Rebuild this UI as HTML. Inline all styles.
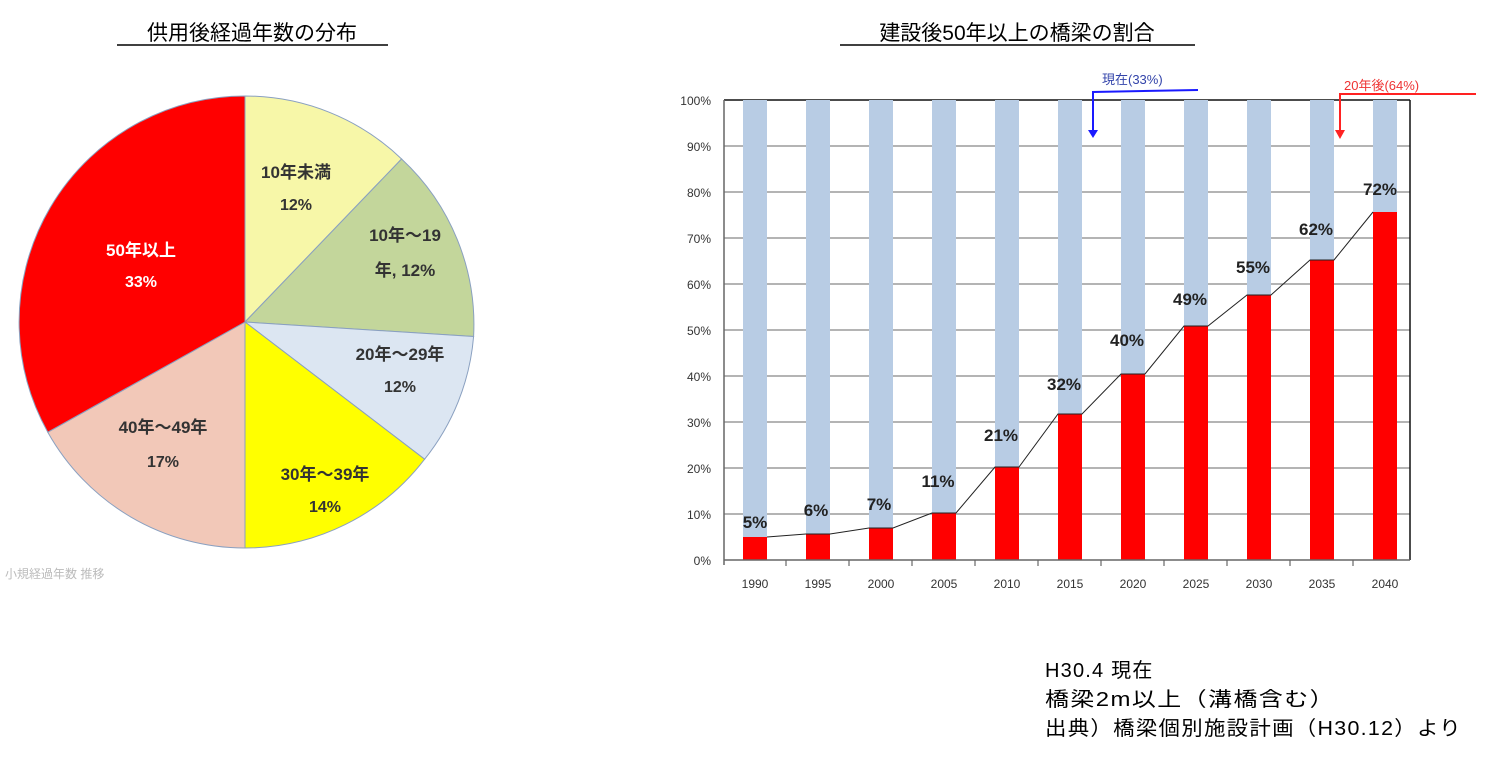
<!DOCTYPE html>
<html><head><meta charset="utf-8"><style>
body{margin:0;background:#fff;width:1500px;height:755px;overflow:hidden;font-family:"Liberation Sans","Noto Sans CJK JP",sans-serif}
svg text{font-family:"Liberation Sans","Noto Sans CJK JP",sans-serif}
</style></head><body>
<svg width="1500" height="755" xmlns="http://www.w3.org/2000/svg">
<text x="252" y="40" font-size="21" text-anchor="middle" fill="#000">供用後経過年数の分布</text>
<line x1="117" y1="45" x2="388" y2="45" stroke="#000" stroke-width="1.5"/>
<text x="1017" y="40" font-size="21" text-anchor="middle" fill="#000">建設後50年以上の橋梁の割合</text>
<line x1="840" y1="45" x2="1195" y2="45" stroke="#000" stroke-width="1.5"/>

<g stroke="#8aa0c0" stroke-width="1">
<path d="M245,322 L245,96 A226,226 0 0 1 401.6,159.0 Z" fill="#f7f7a8"/>
<path d="M245,322 L401.6,159.0 A226,226 0 0 1 473.6,336.5 Z" fill="#c3d69b"/>
<path d="M245,322 L473.6,336.5 A226,226 0 0 1 424.6,459.2 Z" fill="#dce6f2"/>
<path d="M245,322 L424.6,459.2 A226,226 0 0 1 245,548 Z" fill="#ffff00"/>
<path d="M245,322 L245,548 A226,226 0 0 1 47.8,432.2 Z" fill="#f2c8b8"/>
<path d="M245,322 L47.8,432.2 A226,226 0 0 1 245,96 Z" fill="#ff0000"/>
</g>
<g font-size="17" font-weight="bold" text-anchor="middle" fill="#333">
<text x="296" y="178">10年未満</text><text x="296" y="210" font-size="16">12%</text>
<text x="405" y="241">10年～19</text><text x="405" y="276">年, 12%</text>
<text x="400" y="360">20年～29年</text><text x="400" y="392" font-size="16">12%</text>
<text x="325" y="480">30年～39年</text><text x="325" y="512" font-size="16">14%</text>
<text x="163" y="433">40年～49年</text><text x="163" y="467" font-size="16">17%</text>
<text x="141" y="256" fill="#fff">50年以上</text><text x="141" y="287" fill="#fff" font-size="16">33%</text>
</g>

<g stroke="#888" stroke-width="1.2">
<line x1="724" y1="146" x2="1410" y2="146"/><line x1="724" y1="192" x2="1410" y2="192"/>
<line x1="724" y1="238" x2="1410" y2="238"/><line x1="724" y1="284" x2="1410" y2="284"/>
<line x1="724" y1="330" x2="1410" y2="330"/><line x1="724" y1="376" x2="1410" y2="376"/>
<line x1="724" y1="422" x2="1410" y2="422"/><line x1="724" y1="468" x2="1410" y2="468"/>
<line x1="724" y1="514" x2="1410" y2="514"/>
</g>
<line x1="724" y1="100" x2="1410" y2="100" stroke="#111" stroke-width="1.5"/>
<line x1="1410" y1="100" x2="1410" y2="560" stroke="#111" stroke-width="1.5"/>
<g fill="#b8cce4">
<rect x="743" y="100" width="24" height="460"/><rect x="806" y="100" width="24" height="460"/>
<rect x="869" y="100" width="24" height="460"/><rect x="932" y="100" width="24" height="460"/>
<rect x="995" y="100" width="24" height="460"/><rect x="1058" y="100" width="24" height="460"/>
<rect x="1121" y="100" width="24" height="460"/><rect x="1184" y="100" width="24" height="460"/>
<rect x="1247" y="100" width="24" height="460"/><rect x="1310" y="100" width="24" height="460"/>
<rect x="1373" y="100" width="24" height="460"/>
</g>
<g fill="#ff0000">
<rect x="743" y="537" width="24" height="23"/><rect x="806" y="534" width="24" height="26"/>
<rect x="869" y="528" width="24" height="32"/><rect x="932" y="513" width="24" height="47"/>
<rect x="995" y="467" width="24" height="93"/><rect x="1058" y="414" width="24" height="146"/>
<rect x="1121" y="374" width="24" height="186"/><rect x="1184" y="326" width="24" height="234"/>
<rect x="1247" y="295" width="24" height="265"/><rect x="1310" y="260" width="24" height="300"/>
<rect x="1373" y="212" width="24" height="348"/>
</g>
<polyline fill="none" stroke="#222" stroke-width="1" points="767,537 806,534 830,534 869,528 893,528 932,513 956,513 995,467 1019,467 1058,414 1082,414 1121,374 1145,374 1184,326 1208,326 1247,295 1271,295 1310,260 1334,260 1373,212"/>
<line x1="724" y1="560" x2="1410" y2="560" stroke="#666" stroke-width="1.5"/>
<line x1="724" y1="100" x2="724" y2="565" stroke="#666" stroke-width="1.5"/>
<g stroke="#666" stroke-width="1.2">
<line x1="786" y1="560" x2="786" y2="566"/><line x1="849" y1="560" x2="849" y2="566"/><line x1="912" y1="560" x2="912" y2="566"/><line x1="975" y1="560" x2="975" y2="566"/><line x1="1038" y1="560" x2="1038" y2="566"/><line x1="1101" y1="560" x2="1101" y2="566"/><line x1="1164" y1="560" x2="1164" y2="566"/><line x1="1227" y1="560" x2="1227" y2="566"/><line x1="1290" y1="560" x2="1290" y2="566"/><line x1="1353" y1="560" x2="1353" y2="566"/>
</g>
<g font-size="12" fill="#333" text-anchor="end">
<text x="711" y="105">100%</text><text x="711" y="151">90%</text><text x="711" y="197">80%</text><text x="711" y="243">70%</text><text x="711" y="289">60%</text><text x="711" y="335">50%</text><text x="711" y="381">40%</text><text x="711" y="427">30%</text><text x="711" y="473">20%</text><text x="711" y="519">10%</text><text x="711" y="565">0%</text>
</g>
<g font-size="12" fill="#333" text-anchor="middle">
<text x="755" y="588">1990</text><text x="818" y="588">1995</text><text x="881" y="588">2000</text><text x="944" y="588">2005</text><text x="1007" y="588">2010</text><text x="1070" y="588">2015</text><text x="1133" y="588">2020</text><text x="1196" y="588">2025</text><text x="1259" y="588">2030</text><text x="1322" y="588">2035</text><text x="1385" y="588">2040</text>
</g>
<g font-size="17" font-weight="bold" fill="#222" text-anchor="middle">
<text x="755" y="528">5%</text><text x="816" y="516">6%</text><text x="879" y="510">7%</text><text x="938" y="487">11%</text><text x="1001" y="441">21%</text><text x="1064" y="390">32%</text><text x="1127" y="346">40%</text><text x="1190" y="305">49%</text><text x="1253" y="273">55%</text><text x="1316" y="235">62%</text><text x="1380" y="195">72%</text>
</g>
<text x="1102" y="84" font-size="13" fill="#3344aa">現在(33%)</text>
<polyline points="1093,135 1093,92 1198,90" fill="none" stroke="#1a1aff" stroke-width="2"/>
<polygon points="1088,130 1098,130 1093,138" fill="#1a1aff"/>
<text x="1344" y="90" font-size="13" fill="#ee3333">20年後(64%)</text>
<polyline points="1340,135 1340,94 1476,94" fill="none" stroke="#ff2222" stroke-width="2"/>
<polygon points="1335,130 1345,130 1340,139" fill="#ff2222"/>

<g font-size="20" fill="#000" letter-spacing="1.2">
<text x="1045" y="677">H30.4 現在</text>
<text x="1045" y="706" textLength="290" lengthAdjust="spacingAndGlyphs">橋梁2m以上（溝橋含む）</text>
<text x="1045" y="735" textLength="417" lengthAdjust="spacingAndGlyphs">出典）橋梁個別施設計画（H30.12）より</text>
</g>
<text x="5" y="578" font-size="12" fill="#bbb">小規経過年数 推移</text>
</svg>
</body></html>
